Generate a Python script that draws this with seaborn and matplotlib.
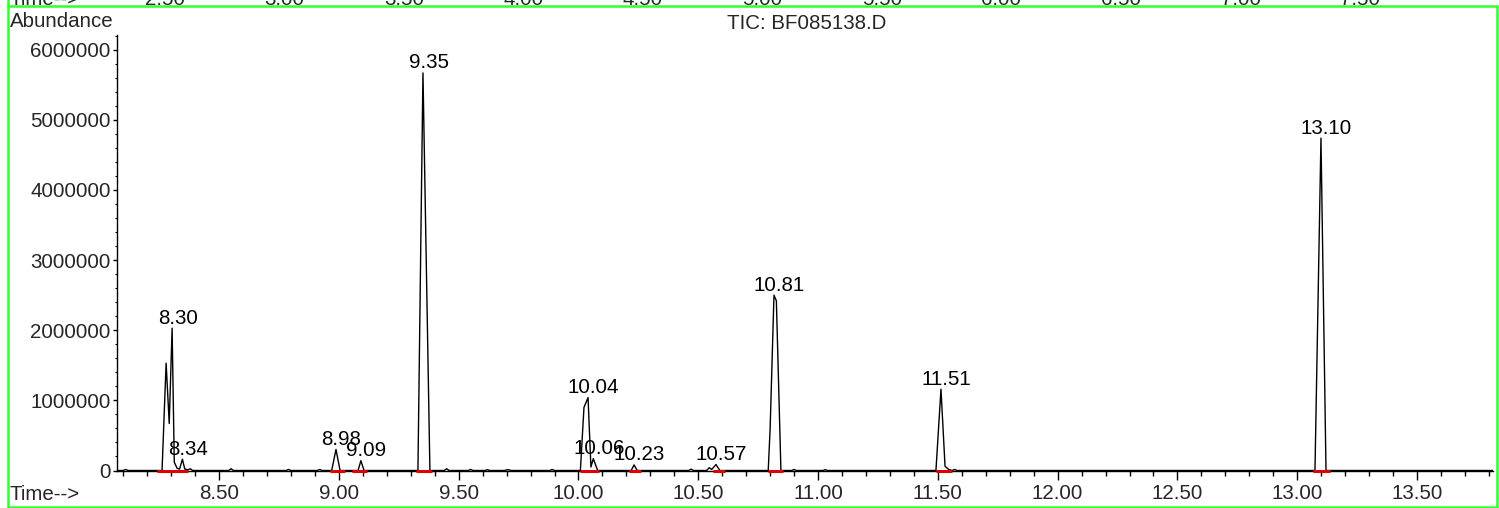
import pandas as pd
import matplotlib
matplotlib.use("Agg")
import matplotlib.pyplot as plt
import matplotlib.ticker as mticker
from matplotlib.patches import Rectangle
from matplotlib.lines import Line2D
import seaborn as sns

# TIC trace vertices (time in min, abundance)
trace_time = [8.074, 8.100, 8.110, 8.120, 8.262, 8.279, 8.292, 8.304, 8.313, 8.325,
              8.335, 8.347, 8.357, 8.370, 8.380, 8.390, 8.540, 8.550, 8.560, 8.780,
              8.790, 8.800, 8.910, 8.920, 8.930, 8.970, 8.988, 9.005, 9.080, 9.092,
              9.105, 9.330, 9.351, 9.380, 9.440, 9.450, 9.460, 9.540, 9.550, 9.560,
              9.610, 9.620, 9.630, 9.690, 9.705, 9.720, 9.880, 9.890, 9.900, 10.008,
              10.023, 10.040, 10.052, 10.062, 10.080, 10.220, 10.232, 10.245, 10.460,
              10.470, 10.480, 10.535, 10.546, 10.556, 10.574, 10.590, 10.792, 10.800,
              10.816, 10.826, 10.845, 10.890, 10.900, 10.910, 11.020, 11.030,
              11.040, 11.492, 11.513, 11.530, 11.545, 11.560, 11.570, 11.580, 13.074,
              13.099, 13.120, 13.817]
trace_abund = [0, 0, 15000, 0, 0, 1530000, 670000, 2030000, 120000, 30000,
               20000, 160000, 20000, 10000, 25000, 0, 0, 25000, 0, 0,
               15000, 0, 0, 15000, 0, 0, 300000, 0, 0, 140000,
               0, 0, 5670000, 0, 0, 25000, 0, 0, 15000, 0,
               0, 12000, 0, 0, 12000, 0, 0, 15000, 0, 0,
               900000, 1040000, 50000, 170000, 0, 0, 80000, 0, 0,
               20000, 0, 0, 40000, 15000, 85000, 0, 0, 600000,
               2500000, 2420000, 0, 0, 15000, 0, 0, 12000,
               0, 0, 1160000, 60000, 15000, 0, 15000, 0, 0,
               4740000, 0, 0]

# peak labels
peak_labels = ["8.30", "8.34", "8.98", "9.09", "9.35", "10.04", "10.06",
               "10.23", "10.57", "10.81", "11.51", "13.10"]
peak_time = [8.304, 8.347, 8.988, 9.092, 9.351, 10.040, 10.062,
             10.232, 10.574, 10.816, 11.513, 13.099]
peak_abund = [2030000, 160000, 300000, 140000, 5670000, 1040000, 170000,
              80000, 85000, 2500000, 1160000, 4740000]

# integration baselines (start, end)
int_start = [8.240, 8.963, 9.055, 9.322, 10.006, 10.211, 10.562, 10.791, 11.492, 13.066]
int_end = [8.370, 9.025, 9.117, 9.389, 10.085, 10.261, 10.612, 10.853, 11.559, 13.137]

# cut-off strip of the previous panel
prev_ticks = ["2.50", "3.00", "3.50", "4.00", "4.50", "5.00", "5.50",
              "6.00", "6.50", "7.00", "7.50"]

sns.set_style("white")
plt.rcParams['font.family'] = ['Liberation Sans', 'DejaVu Sans']
FS = 14.8

fig = plt.figure(figsize=(14.99, 5.08), dpi=100)
W, H = 1499, 508
ax = fig.add_axes([117 / W, (H - 470.5) / H, (1493 - 117) / W, (470.5 - 35) / H])

df = pd.DataFrame({"time": trace_time, "abundance": trace_abund})
sns.lineplot(data=df, x="time", y="abundance", ax=ax, color="black",
             linewidth=1.0, sort=False, estimator=None)

for s, e in zip(int_start, int_end):
    ax.plot([s, e], [0, 0], color="#e00000", linewidth=2.2, solid_capstyle="butt",
            zorder=3, clip_on=False)

for lab, t, a in zip(peak_labels, peak_time, peak_abund):
    ax.annotate(lab, (t, a), xytext=(4, 3.2), textcoords="offset points",
                ha="center", va="baseline", fontsize=FS, color="black")

ax.set_xlim(8.074, 13.817)
ax.set_ylim(0, 6.21e6)
ax.set_xlabel("")
ax.set_ylabel("")
for side in ("top", "right"):
    ax.spines[side].set_visible(False)
for side in ("left", "bottom"):
    ax.spines[side].set_color("black")
    ax.spines[side].set_linewidth(1.0)

ax.xaxis.set_major_locator(mticker.MultipleLocator(0.5))
ax.xaxis.set_minor_locator(mticker.MultipleLocator(0.1))
ax.xaxis.set_major_formatter(mticker.FormatStrFormatter("%.2f"))
ax.yaxis.set_major_locator(mticker.MultipleLocator(1000000))
ax.yaxis.set_minor_locator(mticker.MultipleLocator(200000))
ax.yaxis.set_major_formatter(mticker.FuncFormatter(lambda v, p: "%d" % v))
ax.tick_params(axis="x", which="major", direction="out", length=6.5, width=1,
               color="black", labelsize=FS, pad=3)
ax.tick_params(axis="x", which="minor", direction="out", length=3.6, width=1, color="black")
ax.tick_params(axis="y", which="major", direction="out", length=3, width=1,
               color="black", labelsize=FS, pad=1.5)
ax.tick_params(axis="y", which="minor", direction="out", length=1.5, width=0.8, color="black")
ax.tick_params(bottom=True, left=True)
ax.tick_params(which="minor", bottom=True, left=True)

fig.text(10 / W, (H - 27) / H, "Abundance", fontsize=FS, ha="left", va="baseline")
fig.text(807 / W, (H - 29) / H, "TIC: BF085138.D", fontsize=FS, ha="center", va="baseline")
fig.text(10 / W, (H - 500) / H, "Time-->", fontsize=FS, ha="left", va="baseline")

# remnants of the panel above
fig.text(10 / W, (H - 5) / H, "Time-->", fontsize=FS, ha="left", va="baseline")
for i, lab in enumerate(prev_ticks):
    fig.text((165 + 119.5 * i) / W, (H - 5) / H, lab, fontsize=FS, ha="center", va="baseline")

green = "#33ff33"
fig.patches.append(Rectangle((8 / W, 1.5 / H), (1497 - 8) / W, (H - 6 - 1.5) / H,
                             transform=fig.transFigure, fill=False, edgecolor=green,
                             linewidth=1.8))
fig.lines.append(Line2D([8 / W, 8 / W], [1, (H - 6) / H], transform=fig.transFigure,
                        color=green, linewidth=1.8))

fig.savefig("out.png", dpi=100)
